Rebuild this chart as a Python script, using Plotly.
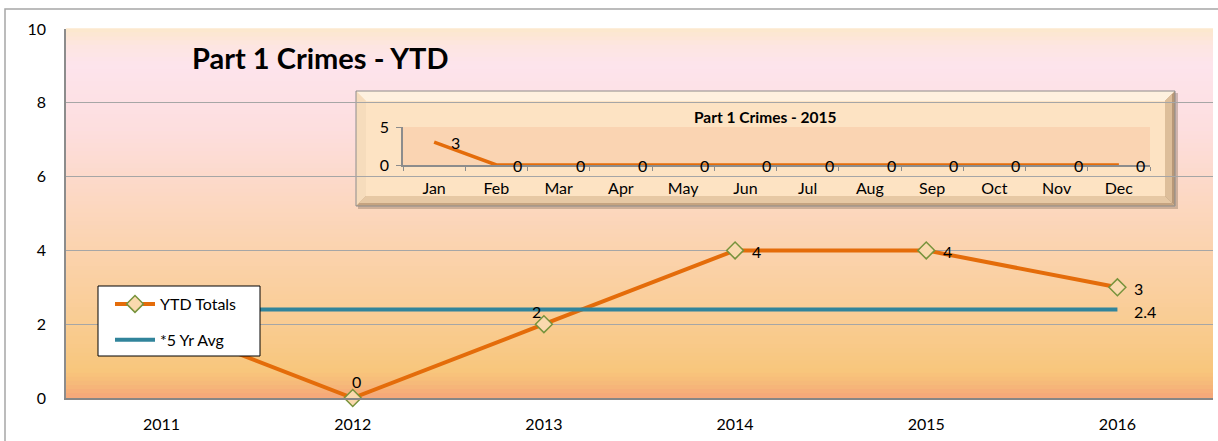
import plotly.graph_objects as go

# ---------------- data ----------------
years = ["2011", "2012", "2013", "2014", "2015", "2016"]
ytd_totals = [2, 0, 2, 4, 4, 3]
five_yr_avg = [2.4, 2.4, 2.4, 2.4, 2.4, 2.4]
ytd_labels = ["2", "0", "2", "4", "4", "3"]
avg_labels = ["", "", "", "", "", "2.4"]

months = ["Jan", "Feb", "Mar", "Apr", "May", "Jun", "Jul", "Aug", "Sep", "Oct", "Nov", "Dec"]
monthly_2015 = [3, 0, 0, 0, 0, 0, 0, 0, 0, 0, 0, 0]
monthly_labels = [str(v) for v in monthly_2015]

main_title = "Part 1 Crimes - YTD"
inset_title = "Part 1 Crimes - 2015"

# ---------------- layout geometry ----------------
W, H = 1218, 441
FONT = "Lato, 'Open Sans', 'Liberation Sans', sans-serif"
ORANGE = "#E46C0A"
TEAL = "#31849B"

def px(x):
    return x / W

def py(y):
    return 1 - y / H

# main plot area (pixels)
MX0, MX1, MY0, MY1 = 66, 1213, 29, 398
# inset plot area (pixels)
IX0, IX1, IY0, IY1 = 403, 1150, 127, 165

def ix(x):  # page pixel -> x2 domain fraction
    return (x - IX0) / (IX1 - IX0)

def iy(y):  # page pixel -> y2 domain fraction
    return (IY1 - y) / (IY1 - IY0)

fig = go.Figure()

fig.add_trace(go.Scatter(
    x=years, y=ytd_totals, name="YTD Totals", mode="lines+markers",
    line=dict(color=ORANGE, width=4),
    marker=dict(symbol="diamond", size=13, color="#FAD9AE", line=dict(color="#77933C", width=1.5)),
    cliponaxis=False, legendgroup="a",
    xaxis="x", yaxis="y",
))
fig.add_trace(go.Scatter(
    x=years, y=five_yr_avg, name="*5 Yr Avg", mode="lines",
    line=dict(color=TEAL, width=4),
    cliponaxis=False, legendgroup="b",
    xaxis="x", yaxis="y",
))
fig.add_trace(go.Scatter(
    x=months, y=monthly_2015, name="2015", mode="lines",
    line=dict(color=ORANGE, width=3.5),
    cliponaxis=False, showlegend=False,
    xaxis="x2", yaxis="y2",
))

shapes = []

# outer chart frame
shapes.append(dict(type="rect", xref="paper", yref="paper",
                   x0=px(5), x1=px(1230), y0=py(450), y1=py(9),
                   line=dict(color="#A6A6A6", width=1.5), fillcolor="rgba(0,0,0,0)", layer="below"))

# gradient background of main plot area
stops = [
    (0.00, (252, 232, 204)),
    (0.05, (253, 229, 226)),
    (0.10, (253, 228, 236)),
    (0.28, (253, 222, 222)),
    (0.45, (252, 216, 196)),
    (0.60, (251, 211, 174)),
    (0.80, (249, 204, 146)),
    (0.93, (248, 198, 124)),
    (0.97, (246, 182, 121)),
    (1.00, (245, 166, 122)),
]

def col_at(t):
    for (t0, c0), (t1, c1) in zip(stops[:-1], stops[1:]):
        if t0 <= t <= t1:
            f = (t - t0) / (t1 - t0) if t1 > t0 else 0
            return "rgb(%d,%d,%d)" % tuple(round(a + (b - a) * f) for a, b in zip(c0, c1))
    return "rgb(%d,%d,%d)" % stops[-1][1]

N = 90
for i in range(N):
    t = (i + 0.5) / N
    shapes.append(dict(type="rect", xref="x domain", yref="y domain",
                       x0=0, x1=1, y0=1 - (i + 1) / N - 0.002, y1=1 - i / N + 0.002,
                       line=dict(width=0), fillcolor=col_at(t), layer="below"))

# inset bevelled box (referenced to the inset axes so it sits above main gridlines)
BX0, BX1, BY0, BY1 = 356, 1175, 91, 206
B = 10
def poly(pts, fill):
    d = "M " + " L ".join("%f,%f" % (ix(a), iy(b)) for a, b in pts) + " Z"
    return dict(type="path", xref="x2 domain", yref="y2 domain", path=d,
                line=dict(width=0), fillcolor=fill, layer="below")

shapes.append(dict(type="rect", xref="x2 domain", yref="y2 domain",
                   x0=ix(BX0 + 2), x1=ix(BX1 + 3), y0=iy(BY1 + 3), y1=iy(BY0 + 2),
                   line=dict(width=0), fillcolor="rgba(120,100,80,0.35)", layer="below"))
shapes.append(dict(type="rect", xref="x2 domain", yref="y2 domain",
                   x0=ix(BX0), x1=ix(BX1), y0=iy(BY1), y1=iy(BY0),
                   line=dict(width=0), fillcolor="#FDE3C3", layer="below"))
shapes.append(poly([(BX0, BY0), (BX1, BY0), (BX1 - B, BY0 + B), (BX0 + B, BY0 + B)], "#FEF1DF"))
shapes.append(poly([(BX0, BY0), (BX0 + B, BY0 + B), (BX0 + B, BY1 - B), (BX0, BY1)], "#F6DCBC"))
shapes.append(poly([(BX0, BY1), (BX0 + B, BY1 - B), (BX1 - B, BY1 - B), (BX1, BY1)], "#C5A380"))
shapes.append(poly([(BX0 + 3, BY1 - 3), (BX0 + B, BY1 - B), (BX1 - B, BY1 - B), (BX1 - 3, BY1 - 3)], "#E6C8A4"))
shapes.append(poly([(BX1, BY0), (BX1, BY1), (BX1 - B, BY1 - B), (BX1 - B, BY0 + B)], "#B89878"))
shapes.append(poly([(BX1 - 3, BY0 + 3), (BX1 - 3, BY1 - 3), (BX1 - B, BY1 - B), (BX1 - B, BY0 + B)], "#DDBE9A"))
shapes.append(dict(type="rect", xref="x2 domain", yref="y2 domain",
                   x0=ix(BX0), x1=ix(BX1), y0=iy(BY1), y1=iy(BY0),
                   line=dict(color="#8C8C8C", width=1), fillcolor="rgba(0,0,0,0)", layer="below"))
shapes.append(dict(type="rect", xref="x2 domain", yref="y2 domain",
                   x0=0, x1=1, y0=0, y1=1,
                   line=dict(width=0), fillcolor="#FAD4B2", layer="below"))

# legend box (drawn as a shape; the legend itself is transparent on top of it)
shapes.append(dict(type="rect", xref="paper", yref="paper",
                   x0=px(98), x1=px(260), y0=py(356), y1=py(286),
                   line=dict(color="#000000", width=1), fillcolor="#FFFFFF", layer="above"))

annotations = [
    dict(text="<b>%s</b>" % main_title, xref="paper", yref="paper",
         x=px(190), y=py(57), xanchor="left", yanchor="middle", showarrow=False,
         font=dict(family=FONT, size=29, color="#000000")),
    dict(text="<b>%s</b>" % inset_title, xref="paper", yref="paper",
         x=px(765), y=py(117), xanchor="center", yanchor="middle", showarrow=False,
         font=dict(family=FONT, size=15.5, color="#000000")),
]

# data labels for the main chart (label offsets in pixels); category index used as x
main_offsets = [("left", 15, 0), ("center", 4, 17), ("center", -7, 13),
                ("left", 15, -1), ("left", 15, -1), ("left", 15, -1)]
for i, (yv, lab, (anc, dx, dy)) in enumerate(zip(ytd_totals, ytd_labels, main_offsets)):
    if i == 0:
        continue  # hidden behind the legend box in the original
    annotations.append(dict(text=lab, x=i, y=yv, xref="x", yref="y", showarrow=False,
                            xanchor=anc, yanchor="middle", xshift=dx, yshift=dy,
                            font=dict(family=FONT, size=16, color="#000000")))
for i, (yv, lab) in enumerate(zip(five_yr_avg, avg_labels)):
    if lab:
        annotations.append(dict(text=lab, x=i, y=yv, xref="x", yref="y", showarrow=False,
                                xanchor="left", yanchor="middle", xshift=15, yshift=-2,
                                font=dict(family=FONT, size=16, color="#000000")))
for i, (yv, lab) in enumerate(zip(monthly_2015, monthly_labels)):
    annotations.append(dict(text=lab, x=i, y=yv, xref="x2", yref="y2", showarrow=False,
                            xanchor="left", yanchor="middle", xshift=15, yshift=0,
                            font=dict(family=FONT, size=16, color="#000000")))

fig.update_layout(
    width=W, height=H, autosize=False,
    margin=dict(l=0, r=0, t=0, b=0, autoexpand=False),
    paper_bgcolor="#FFFFFF", plot_bgcolor="rgba(0,0,0,0)",
    font=dict(family=FONT, size=16, color="#000000"),
    shapes=shapes, annotations=annotations,
    showlegend=True,
    legend=dict(x=px(110), y=py(287), xanchor="left", yanchor="top",
                bgcolor="rgba(0,0,0,0)", borderwidth=0, itemwidth=40,
                font=dict(family=FONT, size=16, color="#000000"),
                tracegroupgap=12, traceorder="grouped"),
    xaxis=dict(domain=[px(MX0), px(MX1)], anchor="y", type="category", automargin=False,
               range=[-0.5, 5.5], showgrid=False, showline=True,
               linecolor="#868686", linewidth=2, ticks="", ticklabelstandoff=11,
               tickfont=dict(family=FONT, size=16), zeroline=False, fixedrange=True),
    yaxis=dict(domain=[py(MY1), py(MY0)], anchor="x", range=[0, 10], dtick=2, automargin=False,
               showgrid=True, gridcolor="#A6A6A6", gridwidth=1,
               showline=True, linecolor="#8C8C8C", linewidth=1.5, mirror=False,
               ticks="", ticklabelstandoff=15, zeroline=False,
               tickfont=dict(family=FONT, size=16), fixedrange=True),
    xaxis2=dict(domain=[px(IX0), px(IX1)], anchor="y2", type="category", automargin=False,
                range=[-0.5, 11.5], showgrid=False, showline=True,
                linecolor="#8C8C8C", linewidth=1.5, ticks="outside", tickson="boundaries",
                ticklen=4, tickcolor="#8C8C8C", ticklabelstandoff=8,
                tickfont=dict(family=FONT, size=16), zeroline=False, fixedrange=True),
    yaxis2=dict(domain=[py(IY1), py(IY0)], anchor="x2", range=[0, 5], dtick=5, automargin=False,
                showgrid=True, gridcolor="#8C8C8C", gridwidth=1.5,
                showline=True, linecolor="#8C8C8C", linewidth=1.5,
                ticks="outside", ticklen=5, tickcolor="#8C8C8C", ticklabelstandoff=4,
                tickfont=dict(family=FONT, size=16), zeroline=False, fixedrange=True),
)

fig.write_html("out.html", config=dict(displayModeBar=False))
